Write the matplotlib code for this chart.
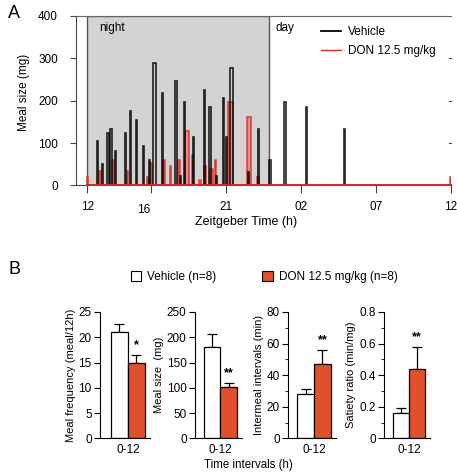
import matplotlib
matplotlib.use("Agg")
import matplotlib.pyplot as plt
import matplotlib.transforms as mtrans
from matplotlib.lines import Line2D
from matplotlib.patches import Patch

plt.rcParams['font.family'] = ['Liberation Sans', 'DejaVu Sans']

# ---------------- Panel A data (ZT hours, meal size mg, meal duration h)
veh_time = [12.64, 12.97, 13.30, 13.50, 13.80, 14.46, 14.83, 15.21, 15.67, 16.07,
            16.30, 16.94, 17.80, 18.13, 18.35, 18.97, 19.69, 20.06, 20.46, 20.97,
            21.16, 21.44, 22.60, 23.25, 24.02, 25.00, 26.42, 28.92]
veh_size = [104, 51, 124, 134, 82, 124, 175, 155, 92, 61,
            288, 217, 247, 22, 196, 114, 226, 185, 22, 206,
            114, 277, 31, 134, 61, 196, 185, 134]
veh_dur = [0.08, 0.08, 0.12, 0.12, 0.08, 0.08, 0.08, 0.08, 0.08, 0.08,
           0.25, 0.08, 0.1, 0.08, 0.08, 0.08, 0.1, 0.08, 0.08, 0.08,
           0.08, 0.2, 0.08, 0.1, 0.08, 0.08, 0.08, 0.08]

don_time = [11.95, 12.75, 13.65, 14.60, 15.92, 16.12, 17.00, 17.45, 17.97, 18.45,
            18.88, 19.38, 19.70, 20.12, 20.42, 21.30, 22.53, 23.22, 35.92]
don_size = [20, 33, 59, 33, 20, 54, 59, 47, 59, 128,
            73, 12, 47, 39, 59, 196, 161, 20, 20]
don_dur = [0.1, 0.15, 0.1, 0.1, 0.1, 0.15, 0.1, 0.1, 0.12, 0.25,
           0.08, 0.1, 0.15, 0.15, 0.1, 0.3, 0.26, 0.1, 0.1]

a_ticks = [12, 16.22, 21.16, 26.1, 31.05, 36]
a_ticklabels = ['12', '16', '21', '02', '07', '12']

# ---------------- Panel B data
groups = ['Vehicle (n=8)', 'DON 12.5 mg/kg (n=8)']
panels = ['Meal frequency (meal/12h)', 'Meal size  (mg)',
          'Intermeal intervals (min)', 'Satiety ratio (min/mg)']
means = [[21, 15], [180, 101], [28, 47], [0.16, 0.44]]
errs = [[1.6, 1.4], [26, 8], [3.5, 9], [0.03, 0.14]]
stars = ['*', '**', '**', '**']
ylims = [25, 250, 80, 0.8]
yticks = [[0, 5, 10, 15, 20, 25], [0, 50, 100, 150, 200, 250],
          [0, 20, 40, 60, 80], [0, 0.2, 0.4, 0.6, 0.8]]
ytlabels = [None, None, None, ['0', '0.2', '0.4', '0.6', '0.8']]
interval = '0-12'

RED = '#d22a22'
ORANGE = '#e0502a'

W, H = 457, 474
fig = plt.figure(figsize=(W / 100, H / 100), dpi=100)

def rect(l, t, r, b):
    return [l / W, 1 - b / H, (r - l) / W, (b - t) / H]

# ---------------- Panel A
ax = fig.add_axes(rect(76, 15.7, 451, 185.5))
ax.set_xlim(11.25, 36)
ax.set_ylim(0, 400)
ax.axvspan(12, 24, facecolor='#d3d3d3', edgecolor='#555555', lw=1.0, zorder=0)
ax.bar(veh_time, veh_size, width=veh_dur, align='edge', facecolor='none',
       edgecolor='black', lw=1.2, alpha=0.85, zorder=3)
ax.bar(don_time, don_size, width=don_dur, align='edge', facecolor='#e58080',
       edgecolor=RED, lw=1.1, alpha=0.85, zorder=2)
ax.plot([12, 36], [0, 0], color=RED, lw=1.4, zorder=4, clip_on=False)
ax.spines['right'].set_visible(False)
ax.spines['top'].set_color('#666666')
ax.spines['left'].set_color('#444444')
ax.spines['bottom'].set_color('#444444')
ax.set_yticks([0, 100, 200, 300, 400])
ax.tick_params(axis='y', direction='out', length=4, labelsize=8.5, pad=9, color='#444444')
ax.set_xticks(a_ticks)
ax.set_xticklabels(a_ticklabels)
ax.tick_params(axis='x', direction='out', length=6, labelsize=8.5, pad=5, color='#444444')
for v in [100, 200, 300]:
    ax.plot([35.85, 36], [v, v], color='#444444', lw=0.8, clip_on=False)
lab16 = ax.get_xticklabels()[1]
lab16.set_transform(lab16.get_transform() +
                    mtrans.ScaledTranslation(-0.08, -0.03, fig.dpi_scale_trans))
ax.set_ylabel('Meal size (mg)', fontsize=8.5)
ax.yaxis.set_label_coords(-46 / 375, (185.5 - 92) / 169.8)
ax.set_xlabel('Zeitgeber Time (h)', fontsize=9)
ax.xaxis.set_label_coords((246 - 76) / 375, -(222 - 185.5) / 169.8)
ax.xaxis.label.set_va('center')
ax.text(12.8, 371, 'night', fontsize=8.5, va='center')
ax.text(24.45, 371, 'day', fontsize=8.5, va='center')
handles = [Line2D([], [], color='black', lw=1.3), Line2D([], [], color=RED, lw=1.0)]
ax.legend(handles, ['Vehicle', 'DON 12.5 mg/kg'], loc='upper left',
          bbox_to_anchor=(0.625, 1.0), frameon=False, fontsize=8.5,
          handlelength=1.7, handletextpad=0.6, labelspacing=0.55)

fig.text(8 / W, 1 - 14 / H, 'A', fontsize=13, va='center')
fig.text(8 / W, 1 - 270 / H, 'B', fontsize=13, va='center')

# ---------------- Panel B legend
bleg = [Patch(facecolor='white', edgecolor='black', lw=0.8),
        Patch(facecolor=ORANGE, edgecolor='black', lw=0.8)]
fig.legend(bleg, groups, loc='center', bbox_to_anchor=(0.578, 1 - 277 / H),
           ncol=2, frameon=False, fontsize=8.5, handlelength=0.9, handleheight=0.9,
           handletextpad=0.5, columnspacing=3.9)

boxes = [(100, 150), (195, 242), (288, 336), (384, 430)]
xlefts = [-1.15, -1.03, -1.04, -1.04]
for i in range(4):
    l, r = boxes[i]
    bx = fig.add_axes(rect(l, 312, r, 438.3))
    bx.bar([0, 1], means[i], width=1.0, color=['white', ORANGE],
           edgecolor='black', lw=0.9, zorder=2)
    bx.errorbar([0, 1], means[i], yerr=[[0, 0], errs[i]], fmt='none',
                ecolor='black', elinewidth=0.9, capsize=3.5, capthick=0.9, zorder=1)
    bx.text(1, means[i][1] + errs[i][1] + ylims[i] * 0.03, stars[i],
            ha='center', va='bottom', fontsize=9, fontweight='bold')
    bx.set_xlim(xlefts[i], 1.8)
    bx.set_ylim(0, ylims[i])
    bx.spines['top'].set_visible(False)
    bx.spines['right'].set_visible(False)
    bx.set_yticks(yticks[i])
    if ytlabels[i] is not None:
        bx.set_yticklabels(ytlabels[i])
    if i >= 2:
        step = yticks[i][1] / 2
        bx.set_yticks([step * k for k in range(1, 8, 2)], minor=True)
        bx.tick_params(axis='y', which='minor', length=2.5)
    bx.tick_params(axis='y', which='major', length=4, labelsize=8.5, pad=2)
    bx.set_xticks([0.5])
    bx.set_xticklabels([interval])
    bx.tick_params(axis='x', length=0, labelsize=8.5, pad=4)
    bx.set_ylabel(panels[i], fontsize=8, labelpad=2)

fig.text(248 / W, 1 - 465 / H, 'Time intervals (h)', fontsize=8.3,
         ha='center', va='center')

fig.savefig('out.png', dpi=100)
